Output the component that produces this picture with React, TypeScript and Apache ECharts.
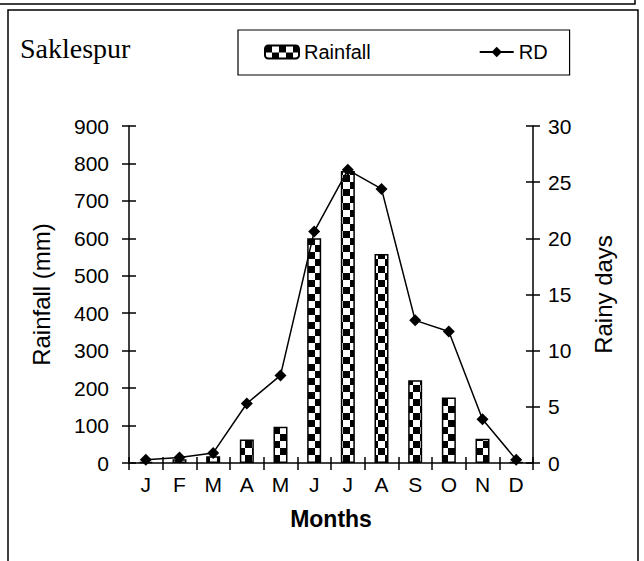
import React, { useEffect, useRef } from "react";
import * as echarts from "echarts";

const months = ["J", "F", "M", "A", "M", "J", "J", "A", "S", "O", "N", "D"];
const rainfall = [3, 10, 18, 63, 97, 600, 780, 558, 221, 175, 65, 3];
const rainyDays = [0.3, 0.5, 0.9, 5.3, 7.8, 20.6, 26.1, 24.4, 12.7, 11.7, 3.9, 0.3];
const titleText = "Saklespur";

const SANS = "'Liberation Sans', Arial, sans-serif";
const SERIF = "'Liberation Serif', 'Times New Roman', serif";

const PW = 14;
const PH = 14;

function makePattern() {
  const c = document.createElement("canvas");
  c.width = PW;
  c.height = PH;
  const ctx = c.getContext("2d")!;
  ctx.fillStyle = "#fff";
  ctx.fillRect(0, 0, PW, PH);
  ctx.fillStyle = "#000";
  ctx.fillRect(0, 0, PW / 2, PH / 2);
  ctx.fillRect(PW / 2, PH / 2, PW / 2, PH / 2);
  return c.toDataURL();
}

export default function App() {
  const ref = useRef<HTMLDivElement>(null);
  useEffect(() => {
    if (!ref.current) return;
    const chart = echarts.init(ref.current, null, { renderer: "svg" });
    const img = makePattern();
    const pat = (x: number, y: number) => ({
      image: img,
      repeat: "repeat",
      imageWidth: PW,
      imageHeight: PH,
      x,
      y,
    });
    const axisText = { fontFamily: SANS, fontSize: 21, color: "#000" };
    const nameText = { fontFamily: SANS, fontSize: 24, color: "#000" };
    const lineStyle = { color: "#000", width: 1.5 };
    chart.setOption({
      animation: false,
      backgroundColor: "#fff",
      title: {
        text: titleText,
        left: 15,
        top: 29,
        textStyle: { fontFamily: SERIF, fontSize: 28, fontWeight: "normal", color: "#000" },
      },
      legend: {
        data: ["Rainfall", "RD"],
        left: 238,
        top: 30,
        borderColor: "#000",
        borderWidth: 1.2,
        padding: [12, 22, 13, 26],
        itemGap: 108,
        itemWidth: 34,
        itemHeight: 13,
        textStyle: { fontFamily: SANS, fontSize: 20, color: "#000" },
      },
      grid: { left: 129, right: 111, top: 126, bottom: 98 },
      xAxis: [
        {
          type: "category",
          data: months,
          position: "bottom",
          axisLine: { lineStyle },
          axisTick: { show: true, length: 7, lineStyle },
          axisLabel: { ...axisText, margin: 11 },
          name: "Months",
          nameLocation: "middle",
          nameGap: 44,
          nameTextStyle: { ...nameText, fontSize: 23, fontWeight: "bold" },
        },
        {
          type: "category",
          data: months,
          position: "bottom",
          axisLine: { show: false },
          axisTick: { show: true, inside: true, length: 6, lineStyle },
          axisLabel: { show: false },
        },
      ],
      yAxis: [
        {
          type: "value",
          position: "left",
          min: 0,
          max: 900,
          interval: 100,
          axisLine: { show: true, lineStyle },
          axisTick: { show: true, length: 7, lineStyle },
          axisLabel: { ...axisText, margin: 20 },
          splitLine: { show: false },
          name: "Rainfall (mm)",
          nameLocation: "middle",
          nameGap: 76,
          nameTextStyle: nameText,
        },
        {
          type: "value",
          position: "right",
          min: 0,
          max: 30,
          interval: 5,
          axisLine: { show: true, lineStyle },
          axisTick: { show: true, length: 7, lineStyle },
          axisLabel: { ...axisText, margin: 15 },
          splitLine: { show: false },
          name: "Rainy days",
          nameLocation: "middle",
          nameGap: 58,
          nameTextStyle: nameText,
        },
        {
          type: "value",
          position: "left",
          min: 0,
          max: 900,
          interval: 100,
          axisLine: { show: false },
          axisTick: { show: true, inside: true, length: 7, lineStyle },
          axisLabel: { show: false },
          splitLine: { show: false },
        },
        {
          type: "value",
          position: "right",
          min: 0,
          max: 30,
          interval: 5,
          axisLine: { show: false },
          axisTick: { show: true, inside: true, length: 7, lineStyle },
          axisLabel: { show: false },
          splitLine: { show: false },
        },
      ],
      graphic: [
        {
          type: "rect",
          shape: { x: 8, y: 10, width: 630, height: 560 },
          style: { fill: "none", stroke: "#000", lineWidth: 1.5 },
          silent: true,
        },
        {
          type: "polyline",
          shape: { points: [[0, 4], [635, 4], [635, 0]] },
          style: { fill: "none", stroke: "#000", lineWidth: 1.5 },
          silent: true,
        },
      ],
      series: [
        {
          id: "bar",
          name: "Rainfall",
          type: "bar",
          data: rainfall,
          barWidth: 14,
          itemStyle: { color: pat(0, 0), borderColor: "#000", borderWidth: 1.5 },
        },
        {
          id: "line",
          name: "RD",
          type: "line",
          yAxisIndex: 1,
          data: rainyDays,
          symbol: "diamond",
          symbolSize: 12,
          itemStyle: { color: "#000" },
          lineStyle: { color: "#000", width: 1.5 },
        },
      ],
    });
    const y0 = chart.convertToPixel({ yAxisIndex: 0 }, 0) as number;
    chart.setOption({
      series: [
        {
          id: "bar",
          data: rainfall.map((v, i) => {
            const cx = chart.convertToPixel({ xAxisIndex: 0 }, i) as number;
            return { value: v, itemStyle: { color: pat(Math.round(cx - 7), Math.round(y0)) } };
          }),
        },
      ],
    });
    return () => chart.dispose();
  }, []);
  return (
    <div
      ref={ref}
      style={{ position: "absolute", left: 0, top: 0, width: 644, height: 561 }}
    />
  );
}
